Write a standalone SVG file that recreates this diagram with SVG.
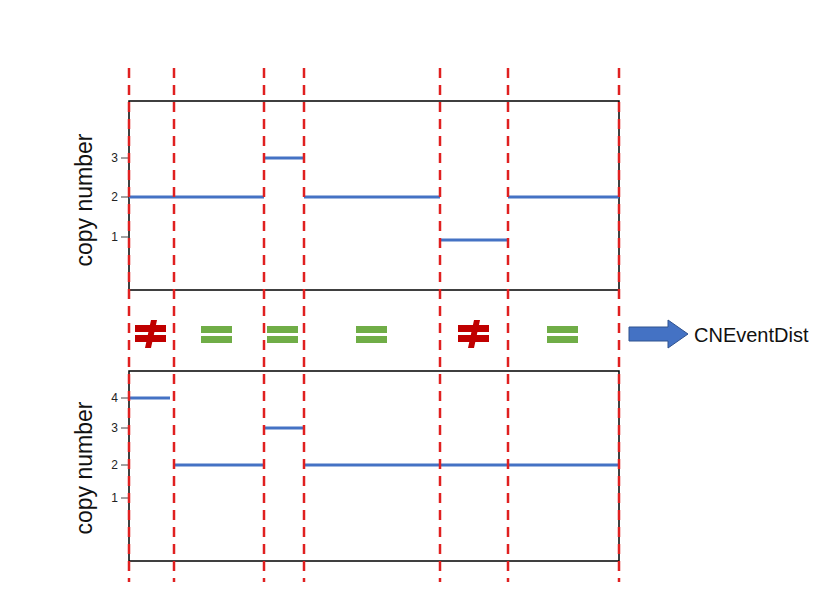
<svg xmlns="http://www.w3.org/2000/svg" width="837" height="608" viewBox="0 0 837 608">
<style>
.box{fill:none;stroke:#000;stroke-width:1.5}
.cn{stroke:#4472c4;stroke-width:3}
.tk{stroke:#444;stroke-width:1}
.tl{font-family:"Liberation Sans",sans-serif;font-size:12px;fill:#222;text-anchor:end}
.ax{font-family:"Liberation Sans",sans-serif;font-size:23px;fill:#111;text-anchor:middle}
.dash{stroke:#e02020;stroke-width:2.5;stroke-dasharray:10,7}
.eq{fill:#70ad47}
.ne{fill:#c00000}
</style>
<rect width="837" height="608" fill="#fff"/>
<g id="top-panel">
<rect class="box" x="129" y="101" width="490" height="189"/>
<line class="tk" x1="121" y1="158" x2="129" y2="158"/><text class="tl" x="118" y="162">3</text>
<line class="tk" x1="121" y1="197" x2="129" y2="197"/><text class="tl" x="118" y="201">2</text>
<line class="tk" x1="121" y1="237" x2="129" y2="237"/><text class="tl" x="118" y="241">1</text>
<text class="ax" transform="translate(92,200) rotate(-90)">copy number</text>
<line class="cn" x1="129" y1="197" x2="264" y2="197"/>
<line class="cn" x1="264" y1="158" x2="304" y2="158"/>
<line class="cn" x1="304" y1="197" x2="440" y2="197"/>
<line class="cn" x1="440" y1="240" x2="508" y2="240"/>
<line class="cn" x1="508" y1="197" x2="619" y2="197"/>
</g>
<g id="bottom-panel">
<rect class="box" x="129" y="371" width="490" height="190"/>
<line class="tk" x1="121" y1="398" x2="129" y2="398"/><text class="tl" x="118" y="402">4</text>
<line class="tk" x1="121" y1="428" x2="129" y2="428"/><text class="tl" x="118" y="432">3</text>
<line class="tk" x1="121" y1="465" x2="129" y2="465"/><text class="tl" x="118" y="469">2</text>
<line class="tk" x1="121" y1="498" x2="129" y2="498"/><text class="tl" x="118" y="502">1</text>
<text class="ax" transform="translate(92,468) rotate(-90)">copy number</text>
<line class="cn" x1="129" y1="398" x2="170" y2="398"/>
<line class="cn" x1="174" y1="465" x2="264" y2="465"/>
<line class="cn" x1="264" y1="428" x2="304" y2="428"/>
<line class="cn" x1="304" y1="465" x2="619" y2="465"/>
</g>
<g id="boundaries">
<line class="dash" x1="129" y1="68" x2="129" y2="582"/>
<line class="dash" x1="174" y1="68" x2="174" y2="582"/>
<line class="dash" x1="264" y1="68" x2="264" y2="582"/>
<line class="dash" x1="304" y1="68" x2="304" y2="582"/>
<line class="dash" x1="440" y1="68" x2="440" y2="582"/>
<line class="dash" x1="508" y1="68" x2="508" y2="582"/>
<line class="dash" x1="619" y1="68" x2="619" y2="582"/>
</g>
<g id="comparisons">
<g class="ne"><rect x="135" y="325" width="31" height="7"/><rect x="135" y="335" width="31" height="7"/><polygon points="151,320 157,320 151,348 145,348"/></g>
<g class="eq"><rect x="201" y="326" width="31" height="7"/><rect x="201" y="336" width="31" height="7"/></g>
<g class="eq"><rect x="267" y="326" width="31" height="7"/><rect x="267" y="336" width="31" height="7"/></g>
<g class="eq"><rect x="356" y="326" width="31" height="7"/><rect x="356" y="336" width="31" height="7"/></g>
<g class="ne"><rect x="458" y="325" width="31" height="7"/><rect x="458" y="335" width="31" height="7"/><polygon points="474,320 480,320 474,348 468,348"/></g>
<g class="eq"><rect x="547" y="326" width="31" height="7"/><rect x="547" y="336" width="31" height="7"/></g>
</g>
<g id="output">
<polygon points="629,327 668,327 668,320 688,334 668,348 668,341 629,341" fill="#4472c4" stroke="#2f528f" stroke-width="1"/>
<text x="694" y="342" font-family="Liberation Sans, sans-serif" font-size="20" fill="#111">CNEventDist</text>
</g>
</svg>
